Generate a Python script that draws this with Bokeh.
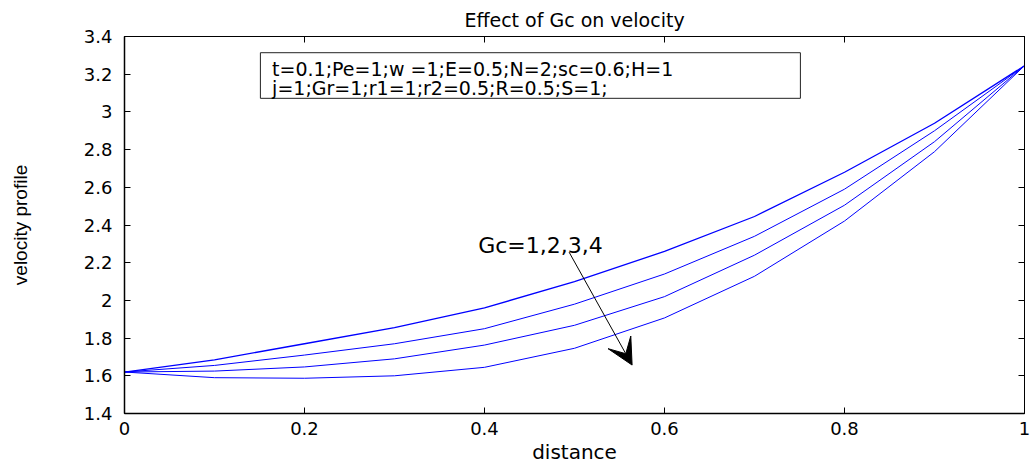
from bokeh.plotting import figure
from bokeh.models import (Range1d, LinearAxis, FixedTicker, CustomJSTickFormatter,
                          BoxAnnotation, Label, Arrow, VeeHead)
from bokeh.embed import file_html
from bokeh.resources import INLINE

# Velocity profiles across the channel for Gc = 1, 2, 3, 4
distance = [0.0, 0.1, 0.2, 0.3, 0.4, 0.5, 0.6, 0.7, 0.8, 0.9, 1.0]
vel_gc1 = [1.62, 1.685, 1.77, 1.855, 1.96, 2.10, 2.26, 2.445, 2.68, 2.94, 3.245]
vel_gc2 = [1.62, 1.655, 1.71, 1.77, 1.85, 1.98, 2.14, 2.34, 2.59, 2.90, 3.245]
vel_gc3 = [1.62, 1.625, 1.647, 1.69, 1.763, 1.868, 2.02, 2.24, 2.505, 2.842, 3.245]
vel_gc4 = [1.62, 1.59, 1.587, 1.60, 1.645, 1.746, 1.907, 2.128, 2.421, 2.789, 3.245]

x_ticks = [0, 0.2, 0.4, 0.6, 0.8, 1]
y_ticks = [1.4, 1.6, 1.8, 2, 2.2, 2.4, 2.6, 2.8, 3, 3.2, 3.4]

param_line1 = "t=0.1;Pe=1;w =1;E=0.5;N=2;sc=0.6;H=1"
param_line2 = "j=1;Gr=1;r1=1;r2=0.5;R=0.5;S=1;"
gc_note = "Gc=1,2,3,4"

FONT = "DejaVu Sans"

p = figure(width=1031, height=466, output_backend="svg", toolbar_location=None,
           x_range=Range1d(0, 1), y_range=Range1d(1.4, 3.4),
           min_border_left=124, min_border_right=7, min_border_top=36,
           min_border_bottom=50, background_fill_color="white",
           border_fill_color="white", title="Effect of Gc on velocity")

p.title.align = "center"
p.title.text_font = FONT
p.title.text_font_size = "19px"
p.title.text_font_style = "normal"
p.title.text_color = "black"
p.title.standoff = 12

p.xgrid.visible = False
p.ygrid.visible = False
p.outline_line_color = "black"
p.outline_line_width = 1
p.outline_line_alpha = 1

fmt = CustomJSTickFormatter(code="return String(Math.round(tick*10)/10);")
blank = CustomJSTickFormatter(code="return '';")

for ax, ticks in ((p.xaxis[0], x_ticks), (p.yaxis[0], y_ticks)):
    ax.ticker = FixedTicker(ticks=ticks)
    ax.formatter = fmt
    ax.minor_tick_line_color = None
    ax.major_tick_in = 6
    ax.major_tick_out = 0
    ax.axis_line_color = "black"
    ax.axis_line_width = 1.5
    ax.major_tick_line_color = "black"
    ax.major_label_text_font = FONT
    ax.major_label_text_font_size = "18px"
    ax.major_label_text_color = "black"
    ax.axis_label_text_color = "black"

p.yaxis.major_label_standoff = 12
p.xaxis.major_label_standoff = 8

p.xaxis.axis_label = "distance"
p.xaxis.axis_label_text_font = FONT
p.xaxis.axis_label_text_font_size = "20px"
p.xaxis.axis_label_text_font_style = "normal"
p.xaxis.axis_label_standoff = 2

p.yaxis.axis_label = "velocity profile"
p.yaxis.axis_label_text_font = "Liberation Sans"
p.yaxis.axis_label_text_font_size = "19px"
p.yaxis.axis_label_text_font_style = "normal"
p.yaxis.axis_label_standoff = 50

# tick marks on the top and right edges of the box
for side, ticks in (("above", x_ticks), ("right", y_ticks)):
    ax = LinearAxis(ticker=FixedTicker(ticks=ticks), formatter=blank,
                    major_tick_in=6, major_tick_out=0, minor_tick_line_color=None,
                    major_label_text_font_size="0px", major_label_standoff=0,
                    axis_line_color="black", major_tick_line_color="black")
    p.add_layout(ax, side)

for ys, lw in ((vel_gc1, 1.3), (vel_gc2, 1), (vel_gc3, 1), (vel_gc4, 1)):
    p.line(distance, ys, line_color="#0000ff", line_width=lw)

# parameter box
p.add_layout(BoxAnnotation(left=0.151, right=0.751, bottom=3.072, top=3.314,
                           fill_color="white", fill_alpha=1,
                           line_color="#222222", line_alpha=1, line_width=1))
for txt, yv in ((param_line1, 3.23), (param_line2, 3.125)):
    p.add_layout(Label(x=0.164, y=yv, text=txt, text_baseline="middle",
                       text_font=FONT, text_font_size="19px", text_color="black"))

p.add_layout(Label(x=0.393, y=2.293, text=gc_note, text_baseline="middle",
                   text_font=FONT, text_font_size="22px", text_color="black"))
p.add_layout(Arrow(x_start=0.494, y_start=2.256, x_end=0.564, y_end=1.657,
                   line_color="black", line_width=1,
                   end=VeeHead(size=26, fill_color="black", line_color="black")))

open("out.html", "w").write(file_html(p, INLINE))
